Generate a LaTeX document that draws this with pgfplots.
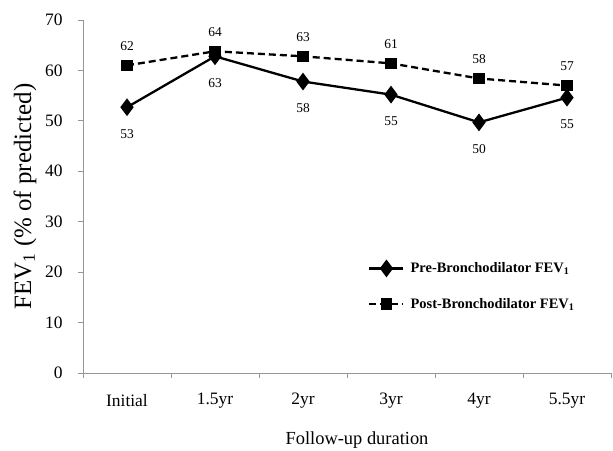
\documentclass[border=0pt]{standalone}
\usepackage{fontspec}
\setmainfont{Liberation Serif}
\usepackage{pgfplots}
\pgfplotsset{compat=1.18}
\definecolor{axgray}{RGB}{150,150,150}
\begin{document}
\begin{tikzpicture}
\begin{axis}[
  name=ax,
  scale only axis,
  width=528bp, height=353bp,
  xmin=-0.5, xmax=5.5, ymin=0, ymax=70,
  axis x line*=bottom, axis y line*=left,
  axis line style={draw=axgray, line width=0.8bp, -},
  /pgf/number format/assume math mode=true,
  xtick={0,...,5},
  xticklabels={Initial,1.5yr,2yr,3yr,4yr,5.5yr},
  minor xtick={-0.5,0.5,1.5,2.5,3.5,4.5,5.5},
  ytick={0,10,...,70},
  tick align=outside,
  major tick length=5bp, minor tick length=5bp,
  xtick style={draw=none},
  minor x tick style={draw=axgray, line width=0.8bp},
  ytick style={draw=axgray, line width=0.8bp},
  tick label style={font=\fontsize{17.5}{20}\selectfont},
  yticklabel style={xshift=-12bp},
  xticklabel style={anchor=center, yshift=-23bp},
  xlabel={Follow-up duration},
  xlabel style={font=\fontsize{18.5}{22}\selectfont, at={(axis description cs:0.519,-0.19)}, anchor=center},
  ylabel={FEV\textsubscript{1} (\% of predicted)},
  ylabel style={font=\fontsize{25}{28}\selectfont, at={(axis description cs:-0.11,0.5)}, anchor=center},
  legend style={draw=none, fill=none, at={(axis description cs:0.54,0.246)}, anchor=west,
    font=\bfseries\fontsize{14.5}{16}\selectfont, row sep=20bp, inner sep=0pt,
    nodes={inner xsep=6bp}},
  legend cell align=left,
  legend image code/.code={\draw[mark repeat=2,mark phase=2,#1] plot coordinates {(0cm,0cm) (0.6cm,0cm) (1.2cm,0cm)};},
  nodes near coords,
  point meta=explicit symbolic,
  every node near coord/.append style={font=\fontsize{13.5}{16}\selectfont, text=black, anchor=center},
]
\addplot[black, line width=2.3bp, mark=diamond*, mark size=7bp, mark options={solid},
  every node near coord/.append style={yshift=-27bp}]
  coordinates {(0,52.7)[53] (1,62.8)[63] (2,57.8)[58] (3,55.2)[55] (4,49.7)[50] (5,54.6)[55]};
\addlegendentry{Pre-Bronchodilator FEV\textsubscript{1}}
\addplot[black, line width=2.3bp, dash pattern=on 7bp off 4bp, mark=square*, mark size=4.5bp, mark options={solid},
  every node near coord/.append style={yshift=19bp}]
  coordinates {(0,61.0)[62] (1,63.8)[64] (2,62.8)[63] (3,61.4)[61] (4,58.4)[58] (5,57.0)[57]};
\addlegendentry{Post-Bronchodilator FEV\textsubscript{1}}
\end{axis}
\pgfresetboundingbox
\path ([xshift=-83bp,yshift=-78bp]ax.south west) rectangle ([xshift=2bp,yshift=20bp]ax.north east);
\end{tikzpicture}
\end{document}
